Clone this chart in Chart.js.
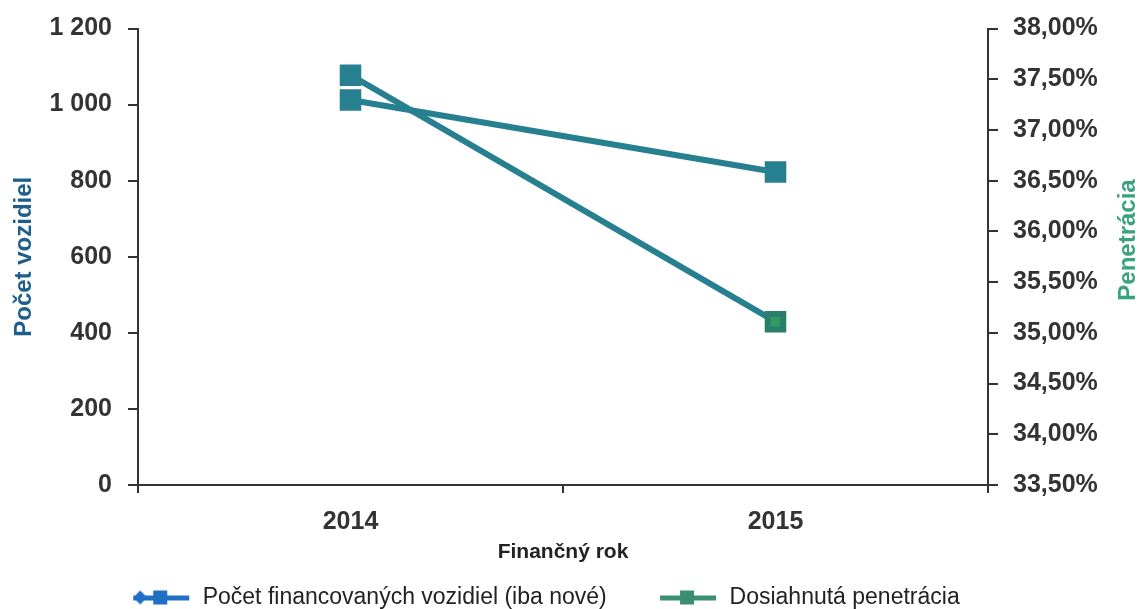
<!DOCTYPE html>
<html>
<head>
<meta charset="utf-8">
<script src="https://cdn.jsdelivr.net/npm/chart.js@4/dist/chart.umd.min.js"></script>
<style>
  html, body { margin: 0; padding: 0; background: #fff; }
  #wrap { width: 1142px; height: 609px; }
</style>
</head>
<body>
<div id="wrap"><canvas id="graf"></canvas></div>
<script>
// data
const roky = ["2014", "2015"];
const pocetVozidiel = [1012, 823];
const penetracia = [37.54, 35.11];
const nazvySerii = ["Počet financovaných vozidiel (iba nové)", "Dosiahnutá penetrácia"];

const TEAL = "#26808f";
const TMAVA = "#333333";

// legend symbol: line with marker
function legendSymbol(farba, diamant) {
    const c = document.createElement("canvas");
    c.width = 60; c.height = 16;
    const x = c.getContext("2d");
    x.fillStyle = farba;
    x.fillRect(2, 6, 56, 5);
    if (diamant) {
        x.beginPath();
        x.moveTo(2, 8); x.lineTo(9, 1); x.lineTo(16, 8); x.lineTo(9, 15);
        x.closePath(); x.fill();
    }
    x.fillRect(22, 1, 14, 14);
    return c;
}
const symboly = [legendSymbol("#1f6fc4", true), legendSymbol("#3a8f6e", false)];

// right axis title drawn bottom-to-top like the original
const titulPravy = {
    id: "titulPravy",
    afterDraw(chart) {
        const ctx = chart.ctx;
        ctx.save();
        ctx.translate(1128, 240);
        ctx.rotate(-Math.PI / 2);
        ctx.font = "bold 24px 'Liberation Sans', Arial, sans-serif";
        ctx.fillStyle = "#3aa37d";
        ctx.textAlign = "center";
        ctx.textBaseline = "middle";
        ctx.fillText("Penetrácia", 0, 0);
        ctx.restore();
    }
};

Chart.defaults.font.family = "'Liberation Sans', Arial, sans-serif";
Chart.defaults.color = TMAVA;

new Chart(document.getElementById("graf"), {
    type: "line",
    data: {
        labels: roky,
        datasets: [{
            label: nazvySerii[0],
            data: pocetVozidiel,
            yAxisID: "y",
            borderColor: TEAL,
            backgroundColor: TEAL,
            borderWidth: 6,
            pointStyle: "rect",
            pointRadius: 11,
            pointBackgroundColor: TEAL,
            pointBorderColor: TEAL,
            tension: 0
        }, {
            label: nazvySerii[1],
            data: penetracia,
            yAxisID: "y1",
            borderColor: TEAL,
            backgroundColor: TEAL,
            borderWidth: 6,
            pointStyle: "rect",
            pointRadius: 11,
            pointBackgroundColor: [TEAL, "#2f9a62"],
            pointBorderColor: [TEAL, "#2a7f6a"],
            tension: 0
        }]
    },
    options: {
        responsive: true,
        maintainAspectRatio: false,
        animation: false,
        layout: { padding: { top: 14, left: 0, right: 0, bottom: -10 } },
        plugins: {
            tooltip: { enabled: false },
            legend: {
                position: "bottom",
                labels: {
                    usePointStyle: true,
                    pointStyleWidth: 60,
                    padding: 13,
                    color: "#222",
                    font: { size: 23 },
                    generateLabels(chart) {
                        const zoz = Chart.defaults.plugins.legend.labels.generateLabels(chart);
                        zoz.forEach((l, i) => {
                            l.pointStyle = symboly[i];
                            // medzery, aby legenda sedela ako v origináli
                            l.text = l.text + (i === 0 ? "      " : "        ");
                        });
                        return zoz;
                    }
                }
            }
        },
        scales: {
            x: {
                offset: true,
                grid: { display: true, drawOnChartArea: false, offset: true, tickLength: 8, color: TMAVA, lineWidth: 2 },
                border: { color: TMAVA, width: 2 },
                ticks: { font: { size: 25, weight: "bold" }, padding: 14 },
                title: { display: true, text: "Finančný rok", font: { size: 21, weight: "bold" }, color: "#222", padding: { top: 4, bottom: 8 } },
                afterFit(s) { s.height = 88; }
            },
            y: {
                position: "left",
                min: 0, max: 1200,
                ticks: {
                    stepSize: 200,
                    font: { size: 25, weight: "bold", lineHeight: 1 },
                    padding: 16,
                    callback: v => v >= 1000 ? String(v).replace(/(\d)(\d{3})$/, "$1 $2") : v
                },
                grid: { display: true, drawOnChartArea: false, tickLength: 10, color: TMAVA, lineWidth: 2 },
                border: { color: TMAVA, width: 2 },
                title: { display: true, text: "Počet vozidiel", color: "#1d5f8a", font: { size: 24, weight: "bold" }, padding: { top: 10 } },
                afterFit(s) { s.width = 138; }
            },
            y1: {
                position: "right",
                min: 33.5, max: 38,
                ticks: {
                    stepSize: 0.5,
                    font: { size: 25, weight: "bold", lineHeight: 1 },
                    padding: 15,
                    callback: v => v.toFixed(2).replace(".", ",") + "%"
                },
                grid: { display: true, drawOnChartArea: false, tickLength: 10, color: TMAVA, lineWidth: 2 },
                border: { color: TMAVA, width: 2 },
                afterFit(s) { s.width = 154; }
            }
        }
    },
    plugins: [titulPravy]
});
</script>
</body>
</html>
